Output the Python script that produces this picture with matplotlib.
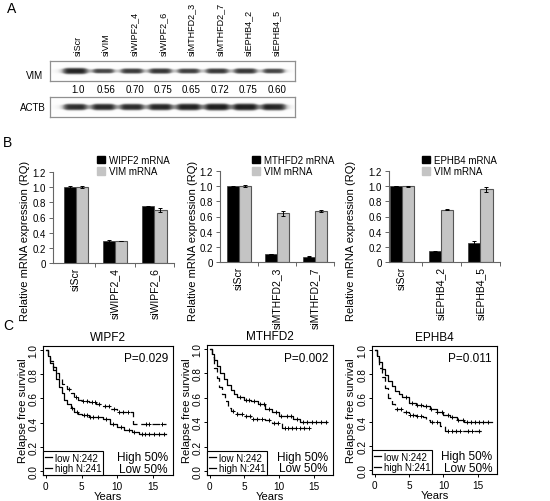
import numpy as np
import matplotlib
matplotlib.use('Agg')
import matplotlib.pyplot as plt
from matplotlib.lines import Line2D
from matplotlib.patches import Rectangle

plt.rcParams['font.family'] = ['Liberation Sans', 'DejaVu Sans']

W, H = 550, 502

# ---- panel A: western blot quantification
lanes = ['siScr', 'siVIM', 'siWIPF2_4', 'siWIPF2_6', 'siMTHFD2_3',
         'siMTHFD2_7', 'siEPHB4_2', 'siEPHB4_5']
vim_level = [1.0, 0.56, 0.70, 0.75, 0.65, 0.72, 0.75, 0.60]
vim_text = ['1.0', '0.56', '0.70', '0.75', '0.65', '0.72', '0.75', '0.60']
actb_level = [0.85, 0.88, 0.85, 0.9, 0.95, 1.0, 1.0, 0.95]

# ---- panel B: qPCR
wipf2_groups = ['siScr', 'siWIPF2_4', 'siWIPF2_6']
wipf2_mrna = [1.0, 0.29, 0.75]
wipf2_mrna_err = [0.012, 0.01, 0.005]
wipf2_vim = [1.0, 0.29, 0.70]
wipf2_vim_err = [0.01, 0.006, 0.03]

mthfd2_groups = ['siScr', 'siMTHFD2_3', 'siMTHFD2_7']
mthfd2_mrna = [1.0, 0.10, 0.07]
mthfd2_mrna_err = [0.006, 0.0, 0.005]
mthfd2_vim = [1.0, 0.64, 0.67]
mthfd2_vim_err = [0.01, 0.035, 0.015]

ephb4_groups = ['siScr', 'siEPHB4_2', 'siEPHB4_5']
ephb4_mrna = [1.0, 0.14, 0.25]
ephb4_mrna_err = [0.0, 0.005, 0.025]
ephb4_vim = [1.0, 0.69, 0.96]
ephb4_vim_err = [0.008, 0.01, 0.035]

# ---- panel C: Kaplan-Meier curves (step points) and censor times
wipf2_low_t = [0, 0.3, 0.6, 1.0, 1.4, 1.8, 2.2, 2.6, 3.0, 3.5, 4.0, 4.5, 5.0,
               6.0, 7.0, 8.0, 9.0, 10.0, 11.0, 12.2, 16.8]
wipf2_low_s = [1.0, 0.96, 0.91, 0.86, 0.81, 0.76, 0.72, 0.70, 0.68, 0.64, 0.61,
               0.59, 0.58, 0.57, 0.55, 0.535, 0.51, 0.49, 0.485, 0.39, 0.39]
wipf2_low_c = [3.3, 4.2, 5.2, 5.7, 6.4, 6.9, 7.5, 8.3, 8.8, 9.6, 10.3, 10.8,
               11.5, 14.0, 14.4, 16.2]
wipf2_high_t = [0, 0.3, 0.6, 1.0, 1.4, 1.8, 2.2, 2.6, 3.0, 3.5, 4.0, 4.5, 5.0,
                6.0, 7.0, 8.0, 9.0, 10.0, 11.0, 12.0, 13.0, 16.8]
wipf2_high_s = [1.0, 0.95, 0.89, 0.83, 0.76, 0.69, 0.64, 0.59, 0.55, 0.52, 0.49,
                0.47, 0.46, 0.45, 0.445, 0.43, 0.39, 0.365, 0.34, 0.325, 0.31,
                0.31]
wipf2_high_c = [3.6, 4.4, 5.3, 5.8, 6.2, 6.6, 7.3, 8.4, 9.4, 10.5, 11.6, 12.4,
                13.4, 13.9, 14.5, 15.1, 15.8, 16.5]

mthfd2_low_t = [0, 0.3, 0.6, 1.0, 1.4, 1.8, 2.2, 2.6, 3.0, 3.5, 4.0, 5.0, 6.0,
                7.0, 8.0, 9.0, 10.5, 14.5]
mthfd2_low_s = [1.0, 0.93, 0.84, 0.76, 0.69, 0.63, 0.57, 0.52, 0.49, 0.48, 0.47,
                0.45, 0.43, 0.43, 0.42, 0.39, 0.35, 0.35]
mthfd2_low_c = [3.4, 4.0, 4.6, 5.3, 5.8, 6.3, 6.8, 7.5, 8.5, 9.3, 9.8, 10.8,
                11.3, 11.9, 12.5, 13.0, 13.6, 14.4]
mthfd2_high_t = [0, 0.3, 0.6, 1.0, 1.5, 2.0, 2.5, 3.0, 3.5, 4.0, 5.0, 6.0, 7.0,
                 8.0, 9.0, 10.0, 11.0, 12.0, 13.0, 17.0]
mthfd2_high_s = [1.0, 0.96, 0.91, 0.86, 0.80, 0.75, 0.70, 0.66, 0.63, 0.61, 0.58,
                 0.57, 0.55, 0.51, 0.48, 0.45, 0.45, 0.43, 0.40, 0.40]
mthfd2_high_c = [4.3, 5.2, 5.7, 6.4, 7.2, 7.8, 8.6, 9.5, 10.3, 11.2, 11.8, 12.6,
                 13.4, 14.0, 14.7, 15.3, 16.0, 16.8]

ephb4_low_t = [0, 0.3, 0.6, 1.0, 1.5, 2.0, 2.5, 3.0, 4.0, 5.0, 6.0, 7.0, 7.5,
               8.0, 9.5, 10.3, 15.5]
ephb4_low_s = [1.0, 0.93, 0.85, 0.77, 0.68, 0.60, 0.55, 0.51, 0.48, 0.46, 0.45,
               0.44, 0.42, 0.40, 0.37, 0.33, 0.33]
ephb4_low_c = [3.2, 3.8, 4.5, 5.1, 5.6, 6.2, 6.7, 8.4, 9.0, 10.6, 11.2, 11.8,
               12.4, 13.6, 14.2, 15.2]
ephb4_high_t = [0, 0.3, 0.6, 1.0, 1.5, 2.0, 2.5, 3.0, 3.5, 4.0, 5.0, 6.0, 7.0,
                8.0, 9.0, 10.0, 11.0, 12.0, 13.0, 17.0]
ephb4_high_s = [1.0, 0.95, 0.90, 0.84, 0.79, 0.74, 0.70, 0.66, 0.63, 0.61, 0.56,
                0.54, 0.53, 0.51, 0.48, 0.46, 0.44, 0.42, 0.40, 0.40]
ephb4_high_c = [4.6, 5.4, 6.1, 6.7, 7.4, 8.2, 9.1, 9.8, 10.6, 11.3, 12.1, 12.8,
                13.5, 14.0, 14.6, 15.2, 15.8, 16.5]


def px_axes(fig, x0, y0, x1, y1):
    return fig.add_axes([x0 / W, 1 - y1 / H, (x1 - x0) / W, (y1 - y0) / H])


def fig_text(fig, x, y, s, **kw):
    fig.text(x / W, 1 - y / H, s, **kw)


def blot(ax, levels, thick):
    # soft bands: darkness and thickness follow the band level
    x0, x1 = -0.88, 7.74
    xs = np.linspace(x0, x1, 500)
    ys = np.linspace(0, 1, 80)
    X, Y = np.meshgrid(xs, ys)
    img = np.full(X.shape, 0.02)
    for i, lv in enumerate(levels):
        hw = 0.5 * (0.6 + 0.3 * lv)
        prof_x = 1 / (1 + ((X - i) / hw) ** 6)
        sig = thick * (0.45 + 0.55 * lv) * (0.6 + 0.4 * prof_x)
        img += (0.65 + 0.25 * lv) * prof_x * np.exp(-((Y - 0.5) / sig) ** 4)
    ax.imshow(np.clip(img, 0, 1), extent=(x0, x1, 0, 1), origin='lower',
              aspect='auto', cmap='Greys', vmin=0, vmax=1.05,
              interpolation='bilinear')
    ax.set_xlim(x0, x1)
    ax.set_ylim(0, 1)
    ax.set_xticks([])
    ax.set_yticks([])
    for sp in ax.spines.values():
        sp.set_color('#909090')
        sp.set_linewidth(0.9)


def bar_chart(ax, groups, mrna, mrna_err, vim, vim_err, name, left):
    x = np.arange(len(groups))
    w = 0.31
    ek = dict(elinewidth=0.7, capthick=0.7, ecolor='black')
    ax.bar(x - w / 2, mrna, w, yerr=mrna_err, capsize=1.5, color='black',
           edgecolor='#333333', lw=0.5, error_kw=ek)
    ax.bar(x + w / 2, vim, w, yerr=vim_err, capsize=1.5, color='#c4c4c4',
           edgecolor='#555555', lw=0.8, error_kw=ek)
    ax.set_xlim(left, len(groups) - 0.5)
    ax.set_ylim(0, 1.2)
    ax.set_yticks([0, 0.2, 0.4, 0.6, 0.8, 1.0, 1.2])
    ax.set_yticklabels(['0', '0.2', '0.4', '0.6', '0.8', '1.0', '1.2'],
                       fontsize=7)
    ax.set_xticks(x)
    ax.set_xticklabels(groups, rotation=90, fontsize=7.5)
    ax.tick_params(axis='x', length=0, pad=3)
    ax.set_xticks(np.arange(len(groups)) + 0.5, minor=True)
    ax.tick_params(axis='x', which='minor', length=3, width=0.7,
                   color='#666666')
    ax.tick_params(axis='y', length=3, width=0.7, color='#666666', pad=2)
    for s in ['top', 'right']:
        ax.spines[s].set_visible(False)
    for s in ['left', 'bottom']:
        ax.spines[s].set_color('#666666')
        ax.spines[s].set_linewidth(0.8)
    return [Rectangle((0, 0), 1, 1, color='black'),
            Rectangle((0, 0), 1, 1, color='#c4c4c4')], [name, 'VIM mRNA']


def step_at(t, s, c):
    idx = np.searchsorted(t, c, side='right') - 1
    return np.array(s)[idx]


def km_plot(ax, title, pval, low_t, low_s, low_c, high_t, high_s, high_c):
    ax.step(low_t, low_s, where='post', color='black', lw=0.9, ls=(0, (6, 3)))
    ax.step(high_t, high_s, where='post', color='black', lw=0.9)
    ax.plot(low_c, step_at(low_t, low_s, low_c), '+', color='black', ms=3,
            mew=0.7)
    ax.plot(high_c, step_at(high_t, high_s, high_c), '+', color='black', ms=3,
            mew=0.7)
    ax.set_xlim(-0.4, 17.8)
    ax.set_ylim(-0.03, 1.03)
    ax.set_xticks([0, 5, 10, 15])
    ax.set_yticks([0, 0.2, 0.4, 0.6, 0.8, 1.0])
    ax.set_yticklabels(['0.0', '0.2', '0.4', '0.6', '0.8', '1.0'],
                       rotation=90, va='center')
    ax.tick_params(labelsize=7.2, length=2.5, width=0.7, pad=0.6)
    ax.tick_params(axis='x', pad=1.5)
    ax.set_title(title, fontsize=8.5, pad=4)
    ax.set_xlabel('Years', fontsize=8, labelpad=0)
    for sp in ax.spines.values():
        sp.set_linewidth(0.8)
    ax.text(0.96, 0.95, pval, transform=ax.transAxes, ha='right', va='top',
            fontsize=8.5)
    ax.text(0.96, 0.14, 'High 50%', transform=ax.transAxes, ha='right',
            va='center', fontsize=8.5)
    ax.text(0.96, 0.05, 'Low 50%', transform=ax.transAxes, ha='right',
            va='center', fontsize=8.5)
    handles = [Line2D([], [], color='black', lw=0.9),
               Line2D([], [], color='black', lw=0.9)]
    leg = ax.legend(handles, ['low N:242', 'high N:241'], loc='lower left',
                    fontsize=7, handlelength=0.7, handletextpad=0.3,
                    labelspacing=0.05, borderpad=0.2, borderaxespad=0,
                    fancybox=False, edgecolor='black', framealpha=1)
    leg.get_frame().set_linewidth(0.8)


fig = plt.figure(figsize=(5.5, 5.02), dpi=100)

# panel letters
fig_text(fig, 12, 9, 'A', fontsize=10, ha='center', va='center')
fig_text(fig, 8, 143, 'B', fontsize=10, ha='center', va='center')
fig_text(fig, 8, 326, 'C', fontsize=10, ha='center', va='center')

# ---- A
ax_vim = px_axes(fig, 50, 62, 295, 82)
blot(ax_vim, vim_level, 0.17)
ax_actb = px_axes(fig, 50, 98, 295, 118)
blot(ax_actb, actb_level, 0.19)
for i, lab in enumerate(lanes):
    ax_vim.text(i + 0.1, 1.3, lab, transform=ax_vim.get_xaxis_transform(),
                rotation=90, ha='center', va='bottom', fontsize=6.5)
    ax_vim.text(i + 0.1, -0.42, vim_text[i],
                transform=ax_vim.get_xaxis_transform(), ha='center',
                va='center', fontsize=7)
fig_text(fig, 43, 76, 'VIM', fontsize=7, ha='right', va='center')
fig_text(fig, 46, 108, 'ACTB', fontsize=7, ha='right', va='center')

# ---- B
ylab = 'Relative mRNA expression (RQ)'
specs = [
    ((53, 173, 174, 264), -0.58, wipf2_groups, wipf2_mrna, wipf2_mrna_err,
     wipf2_vim, wipf2_vim_err, 'WIPF2 mRNA', 97, 25),
    ((220, 172, 334, 263), -0.5, mthfd2_groups, mthfd2_mrna, mthfd2_mrna_err,
     mthfd2_vim, mthfd2_vim_err, 'MTHFD2 mRNA', 252, 193),
    ((389, 172, 500, 263), -0.33, ephb4_groups, ephb4_mrna, ephb4_mrna_err,
     ephb4_vim, ephb4_vim_err, 'EPHB4 mRNA', 422, 351),
]
for rect, left, g, m, me, v, ve, name, legx, labx in specs:
    ax = px_axes(fig, *rect)
    hs, ls = bar_chart(ax, g, m, me, v, ve, name, left)
    fig.legend(hs, ls, loc='upper left', bbox_to_anchor=(legx / W, 1 - 156 / H),
               frameon=False, fontsize=7, handlelength=0.8, handleheight=0.8,
               handletextpad=0.4, labelspacing=0.15, borderpad=0,
               borderaxespad=0)
    fig_text(fig, labx, 241, ylab, rotation=90, ha='center', va='center',
             fontsize=8)

# ---- C
km_specs = [
    ((43, 347, 173, 476), 'WIPF2', 'P=0.029', wipf2_low_t, wipf2_low_s,
     wipf2_low_c, wipf2_high_t, wipf2_high_s, wipf2_high_c, 23),
    ((207, 346, 333, 476), 'MTHFD2', 'P=0.002', mthfd2_low_t, mthfd2_low_s,
     mthfd2_low_c, mthfd2_high_t, mthfd2_high_s, mthfd2_high_c, 187),
    ((372, 347, 497, 475), 'EPHB4', 'P=0.011', ephb4_low_t, ephb4_low_s,
     ephb4_low_c, ephb4_high_t, ephb4_high_s, ephb4_high_c, 351),
]
for rect, title, p, lt, lsv, lc, ht, hsv, hc, labx in km_specs:
    ax = px_axes(fig, *rect)
    km_plot(ax, title, p, lt, lsv, lc, ht, hsv, hc)
    fig_text(fig, labx, 411, 'Relapse free survival', rotation=90,
             ha='center', va='center', fontsize=8)

fig.savefig('out.png', dpi=100)
